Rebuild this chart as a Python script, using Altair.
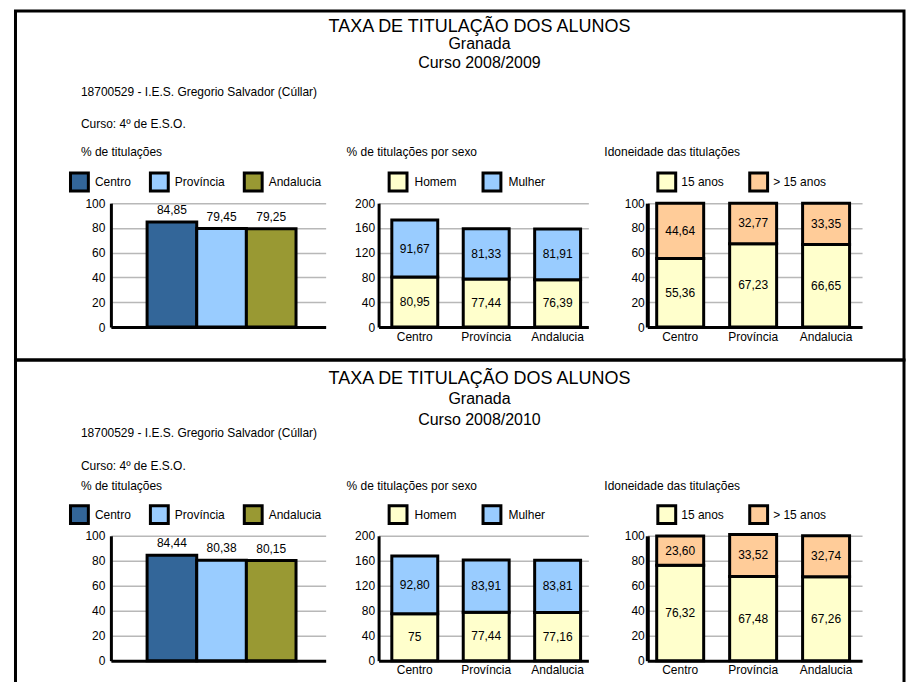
import altair as alt
import pandas as pd

FONT = "Liberation Sans"

# ---------------- data ----------------
regions = ["Centro", "Província", "Andalucia"]
sexes = ["Homem", "Mulher"]
ages = ["15 anos", "> 15 anos"]

pct_2009 = [84.85, 79.45, 79.25]
homem_2009 = [80.95, 77.44, 76.39]
mulher_2009 = [91.67, 81.33, 81.91]
age15_2009 = [55.36, 67.23, 66.65]
ageover_2009 = [44.64, 32.77, 33.35]

pct_2010 = [84.44, 80.38, 80.15]
homem_2010 = [75, 77.44, 77.16]
mulher_2010 = [92.80, 83.91, 83.81]
age15_2010 = [76.32, 67.48, 67.26]
ageover_2010 = [23.60, 33.52, 32.74]

title_main = "TAXA DE TITULAÇÃO DOS ALUNOS"
province = "Granada"
courses = ["Curso 2008/2009", "Curso 2008/2010"]
school = "18700529 - I.E.S. Gregorio Salvador (Cúllar)"
level = "Curso: 4º de E.S.O."
panel_titles = ["% de titulações", "% de titulações por sexo", "Idoneidade das titulações"]

ticks_pct = [0, 20, 40, 60, 80, 100]
ticks_sex = [0, 40, 80, 120, 160, 200]

region_colors = ["#336699", "#99CCFF", "#999933"]
sex_colors = ["#FFFFCC", "#99CCFF"]
age_colors = ["#FFFFCC", "#FFCC99"]


def fmt(v):
    if float(v) == int(v):
        return str(int(v))
    return f"{v:.2f}".replace(".", ",")


# ---------------- helpers ----------------
def y_axis(values, pad, dw=3):
    return alt.Axis(values=values, title=None, grid=True, gridColor="#b8b8b8",
                    gridWidth=1.5, domainColor="black", domainWidth=dw, ticks=False,
                    labelPadding=pad, labelFontSize=12, labelColor="black",
                    labelFont=FONT)


def x_axis(show):
    return alt.Axis(title=None, labels=show, ticks=False, domainColor="black",
                    domainWidth=3, labelAngle=0, labelFontSize=12, labelColor="black",
                    labelFont=FONT, labelPadding=4, grid=False)


def legend(lx, ly, off, colpad):
    return alt.Legend(orient="none", legendX=lx, legendY=ly, direction="horizontal",
                      title=None, symbolType="square", symbolSize=320,
                      symbolStrokeColor="black", symbolStrokeWidth=3, symbolOpacity=1,
                      labelFontSize=12, labelFont=FONT, labelColor="black",
                      labelOffset=off, columnPadding=colpad, padding=0)


def text_layer(s, x, y, size, align="left"):
    return alt.Chart(pd.DataFrame({"t": [s]})).mark_text(
        align=align, baseline="alphabetic", fontSize=size, font=FONT, color="black"
    ).encode(x=alt.value(x), y=alt.value(y), text="t:N")


def border(y_top, y_bottom):
    return alt.Chart(pd.DataFrame({"b": [0]})).mark_rect(
        fill="transparent", stroke="black", strokeWidth=3
    ).encode(x=alt.value(-95.5), x2=alt.value(794), y=alt.value(y_top), y2=alt.value(y_bottom))


def chart_pct(vals, extra, height, leg_y):
    df = pd.DataFrame({"reg": regions, "v": vals, "lab": [fmt(v) for v in vals]})
    base = alt.Chart(df).encode(
        x=alt.X("reg:N", sort=regions,
                scale=alt.Scale(domain=regions, paddingInner=0, paddingOuter=0.663, align=0.55),
                axis=x_axis(False)),
        y=alt.Y("v:Q", scale=alt.Scale(domain=[0, 100], nice=False),
                axis=y_axis(ticks_pct, 6)),
    )
    bars = base.mark_bar(stroke="black", strokeWidth=3).encode(
        color=alt.Color("reg:N", scale=alt.Scale(domain=regions, range=region_colors),
                        legend=legend(-42, leg_y, 5, 12)))
    labels = base.mark_text(baseline="bottom", dy=-5, fontSize=12, font=FONT,
                            color="black").encode(text="lab:N")
    return alt.layer(*extra, bars, labels).properties(width=215, height=height)


def chart_stack(field, names, lower, upper, colors, domain_max, ticks, pad, dw,
                scale_args, leg_args, extra, width, height):
    rows = []
    for i, r in enumerate(regions):
        rows.append({"reg": r, field: names[0], "v0": 0, "v1": lower[i], "lab": fmt(lower[i])})
        rows.append({"reg": r, field: names[1], "v0": lower[i], "v1": lower[i] + upper[i],
                     "lab": fmt(upper[i])})
    df = pd.DataFrame(rows)
    df["mid"] = (df["v0"] + df["v1"]) / 2
    x = alt.X("reg:N", sort=regions, scale=alt.Scale(domain=regions, **scale_args),
              axis=x_axis(True))
    yscale = alt.Scale(domain=[0, domain_max], nice=False)
    bars = alt.Chart(df).mark_bar(stroke="black", strokeWidth=3).encode(
        x=x,
        y=alt.Y("v1:Q", scale=yscale, axis=y_axis(ticks, pad, dw)),
        y2="v0:Q",
        color=alt.Color(f"{field}:N", scale=alt.Scale(domain=names, range=colors),
                        legend=legend(*leg_args)),
    )
    labels = alt.Chart(df).mark_text(fontSize=12, font=FONT, color="black",
                                     baseline="middle").encode(
        x=x,
        y=alt.Y("mid:Q", scale=yscale, axis=y_axis(ticks, pad, dw)),
        text="lab:N",
    )
    return alt.layer(*extra, bars, labels).properties(width=width, height=height)


def spacer(w, h):
    return alt.Chart(pd.DataFrame({"s": [0]})).mark_point(opacity=0).encode(
        x=alt.value(0), y=alt.value(0)).properties(width=w, height=h)


def row(pct, homem, mulher, a15, aover, course, ys, bt, bb, height, leg_y):
    # ys: baselines for title, province, course, school, level, panel titles
    extra1 = [
        border(bt, bb),
        text_layer(title_main, 369, ys[0], 18, "center"),
        text_layer(province, 369, ys[1], 16, "center"),
        text_layer(course, 369, ys[2], 16, "center"),
        text_layer(school, -30, ys[3], 12),
        text_layer(level, -30, ys[4], 12),
        text_layer(panel_titles[0], -30, ys[5], 12),
    ]
    c1 = chart_pct(pct, extra1, height, leg_y)
    c2 = chart_stack("sexo", sexes, homem, mulher, sex_colors, 200, ticks_sex, 4, 3,
                     dict(paddingInner=0.357, paddingOuter=0.147, align=0.63),
                     (9, leg_y, 6, 19),
                     [text_layer(panel_titles[1], -32, ys[5], 12)], 210, height)
    c3 = chart_stack("idade", ages, a15, aover, age_colors, 100, ticks_pct, 3, 4,
                     dict(paddingInner=0.356, paddingOuter=0.15, align=0.43),
                     (9, leg_y, 4, 19),
                     [text_layer(panel_titles[2], -43, ys[5], 12)], 215, height)
    return [c1, spacer(53, height), c2, spacer(59, height), c3]


cells = (
    row(pct_2009, homem_2009, mulher_2009, age15_2009, ageover_2009, courses[0],
        [-171, -154, -135, -107, -75, -47], -192.5, 157, 124, -32)
    + row(pct_2010, homem_2010, mulher_2010, age15_2010, ageover_2010, courses[1],
          [-152, -132, -111, -99, -66, -46], -176, 153, 125, -32)
)

chart = alt.concat(
    *cells, columns=5, spacing={"row": 209, "column": 0}, bounds="flush"
).resolve_scale(
    color="independent", x="independent", y="independent"
).resolve_legend(color="independent").properties(
    padding={"left": 5, "top": 0, "right": 0, "bottom": 0},
    autosize=alt.AutoSizeParams(type="pad"),
    background="white",
).configure(font=FONT).configure_view(stroke="transparent")

chart.save("out.html", embed_options={"renderer": "svg", "actions": False})
